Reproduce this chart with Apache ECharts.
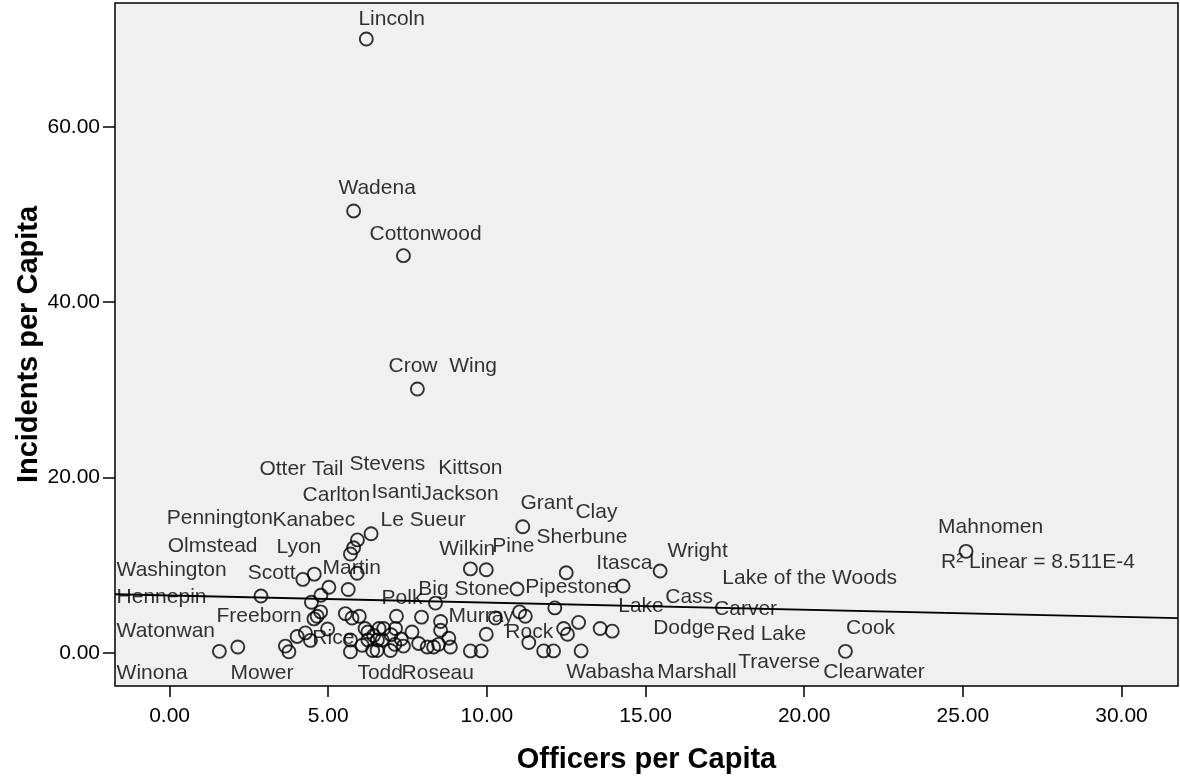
<!DOCTYPE html>
<html>
<head>
<meta charset="utf-8">
<title>Officers vs Incidents per Capita</title>
<script src="https://cdn.jsdelivr.net/npm/echarts@6/dist/echarts.min.js"></script>
<style>
  html, body { margin: 0; padding: 0; background: #ffffff; }
  #chart { width: 1180px; height: 782px; }
</style>
</head>
<body>
<div id="chart"></div>
<script>
// Officers per capita (x) and incidents per capita (y), one pair per county
const officersPerCapita = [
  6.20, 5.80, 7.37, 7.81, 25.10, 21.30,
  2.88, 1.57, 2.15, 3.65, 3.76, 4.02, 4.28, 4.44, 4.98, 4.55, 4.65, 4.76,
  4.47, 4.77, 5.02, 4.20, 4.56, 5.63, 5.91, 5.70, 5.80, 5.92, 6.35,
  5.54, 5.75, 5.98, 5.70, 5.70, 6.16, 6.25, 6.43, 6.55, 6.25, 6.70,
  6.60, 6.75, 6.98, 7.12, 7.64, 7.85, 7.10, 6.40, 6.54, 6.96, 7.37, 6.07,
  7.15, 7.94, 8.38, 8.54, 8.54, 8.80, 8.85, 8.12, 8.32, 8.48,
  9.48, 9.82, 9.98, 10.27, 11.03, 11.21, 11.32, 11.79, 12.10, 12.42, 12.54,
  12.89, 12.97, 13.57, 13.95, 12.14, 10.95, 14.29, 12.50, 9.48, 9.98,
  11.13, 15.46, 7.30
];
const incidentsPerCapita = [
  70.0, 50.4, 45.3, 30.1, 11.6, 0.2,
  6.5, 0.2, 0.7, 0.8, 0.15, 1.9, 2.3, 1.45, 2.75, 3.9, 4.2, 4.7,
  5.8, 6.6, 7.5, 8.4, 9.0, 7.25, 9.1, 11.3, 12.0, 12.9, 13.6,
  4.5, 4.0, 4.2, 1.5, 0.15, 2.8, 2.4, 2.0, 1.5, 1.5, 1.5,
  2.8, 2.8, 2.1, 2.8, 2.4, 1.1, 1.0, 0.3, 0.3, 0.3, 0.8, 0.9,
  4.2, 4.1, 5.7, 3.6, 2.6, 1.7, 0.7, 0.7, 0.7, 1.0,
  0.25, 0.25, 2.15, 4.0, 4.7, 4.2, 1.2, 0.25, 0.25, 2.8, 2.15,
  3.5, 0.25, 2.8, 2.5, 5.15, 7.3, 7.65, 9.15, 9.6, 9.5,
  14.4, 9.35, 1.6
];

// County name labels and where each one sits, in axis units (left edge, middle)
const countyNames = [
  'Lincoln', 'Wadena', 'Cottonwood', 'Crow  Wing', 'Otter Tail', 'Stevens', 'Kittson',
  'Carlton', 'Isanti', 'Jackson', 'Grant', 'Clay', 'Pennington', 'Kanabec', 'Le Sueur',
  'Sherbune', 'Mahnomen', 'Olmstead', 'Lyon', 'Wilkin', 'Pine', 'Wright', 'Itasca',
  'Washington', 'Scott', 'Martin', 'Lake of the Woods', 'Big Stone', 'Pipestone',
  'Hennepin', 'Polk', 'Cass', 'Lake', 'Carver', 'Freeborn', 'Murray', 'Dodge',
  'Red Lake', 'Watonwan', 'Rice', 'Rock', 'Cook', 'Traverse', 'Clearwater',
  'Winona', 'Mower', 'Todd', 'Roseau', 'Wabasha', 'Marshall'
];
const labelX = [
  5.95, 5.32, 6.30, 6.90, 2.83, 5.67, 8.47,
  4.19, 6.36, 7.94, 11.06, 12.79, -0.09, 3.24, 6.65,
  11.56, 24.22, -0.06, 3.37, 8.50, 10.17, 15.69, 13.45,
  -1.67, 2.46, 4.82, 17.42, 7.84, 11.21,
  -1.67, 6.68, 15.62, 14.14, 17.16, 1.48, 8.79, 15.24,
  17.23, -1.67, 4.50, 10.58, 21.32, 17.92, 20.60,
  -1.67, 1.92, 5.92, 7.31, 12.50, 15.37
];
const labelY = [
  72.3, 52.96, 47.8, 32.7, 21.0, 21.5, 21.1,
  18.0, 18.3, 18.1, 17.1, 16.1, 15.4, 15.2, 15.2,
  13.2, 14.4, 12.2, 12.1, 11.8, 12.2, 11.6, 10.2,
  9.45, 9.1, 9.7, 8.5, 7.3, 7.5,
  6.4, 6.3, 6.4, 5.3, 5.0, 4.2, 4.2, 2.85,
  2.16, 2.5, 1.7, 2.4, 2.85, -1.0, -2.16,
  -2.28, -2.28, -2.28, -2.28, -2.16, -2.16
];

// Linear fit line and its R-squared note
const fitIntercept = 6.57;
const fitSlope = -0.081;
const fitNote = 'R\u00B2 Linear = 8.511E-4';
const fitNoteX = 24.31;
const fitNoteY = 10.4;

// Axis ranges and tick labels
const xRange = [-1.72, 31.78];
const yRange = [-3.75, 74.1];
const xTicks = [0, 5, 10, 15, 20, 25, 30];
const yTicks = [0, 20, 40, 60];

const FONT = "'Liberation Sans', Arial, Helvetica, sans-serif";

const points = officersPerCapita.map((x, i) => [x, incidentsPerCapita[i]]);
const labelPoints = countyNames.map((n, i) => ({ value: [labelX[i], labelY[i]], name: n }));
labelPoints.push({ value: [fitNoteX, fitNoteY], name: fitNote });
const fitLine = [
  [xRange[0], fitIntercept + fitSlope * xRange[0]],
  [xRange[1], fitIntercept + fitSlope * xRange[1]]
];

const chart = echarts.init(document.getElementById('chart'), null, { renderer: 'canvas' });
chart.setOption({
  animation: false,
  backgroundColor: '#ffffff',
  textStyle: { fontFamily: FONT },
  grid: {
    left: 115, right: 2, top: 3, bottom: 96,
    show: true,
    backgroundColor: '#f0f0f0',
    borderColor: '#000000',
    borderWidth: 1.5
  },
  xAxis: {
    type: 'value',
    min: xRange[0], max: xRange[1],
    splitLine: { show: false },
    axisLine: { show: false, onZero: false },
    axisTick: { show: true, length: 11, customValues: xTicks, lineStyle: { color: '#000', width: 1.5 } },
    axisLabel: {
      customValues: xTicks,
      margin: 20,
      color: '#000', fontSize: 21, fontFamily: FONT,
      formatter: v => v.toFixed(2)
    },
    name: 'Officers per Capita',
    nameLocation: 'middle',
    nameGap: 59,
    nameMoveOverlap: false,
    nameTextStyle: { color: '#000', fontSize: 29, fontWeight: 'bold', fontFamily: FONT }
  },
  yAxis: {
    type: 'value',
    min: yRange[0], max: yRange[1],
    splitLine: { show: false },
    axisLine: { show: false, onZero: false },
    axisTick: { show: true, length: 12, customValues: yTicks, lineStyle: { color: '#000', width: 1.5 } },
    axisLabel: {
      customValues: yTicks,
      margin: 15,
      color: '#000', fontSize: 21, fontFamily: FONT,
      formatter: v => v.toFixed(2)
    },
    name: 'Incidents per Capita',
    nameLocation: 'middle',
    nameGap: 72,
    nameMoveOverlap: false,
    nameTextStyle: { color: '#000', fontSize: 29, fontWeight: 'bold', fontFamily: FONT }
  },
  series: [
    {
      type: 'line',
      data: fitLine,
      symbol: 'none',
      lineStyle: { color: '#000', width: 1.8 },
      silent: true,
      z: 2
    },
    {
      type: 'scatter',
      data: points,
      symbol: 'circle',
      symbolSize: 13,
      itemStyle: { color: 'rgba(0,0,0,0)', borderColor: '#000', borderWidth: 1.9 },
      silent: true,
      z: 3
    },
    {
      type: 'scatter',
      data: labelPoints,
      symbolSize: 0,
      silent: true,
      z: 4,
      label: {
        show: true,
        position: [0, 0],
        align: 'left',
        verticalAlign: 'middle',
        color: '#000',
        fontSize: 21,
        fontFamily: FONT,
        formatter: p => p.name
      }
    }
  ]
});
</script>
</body>
</html>
